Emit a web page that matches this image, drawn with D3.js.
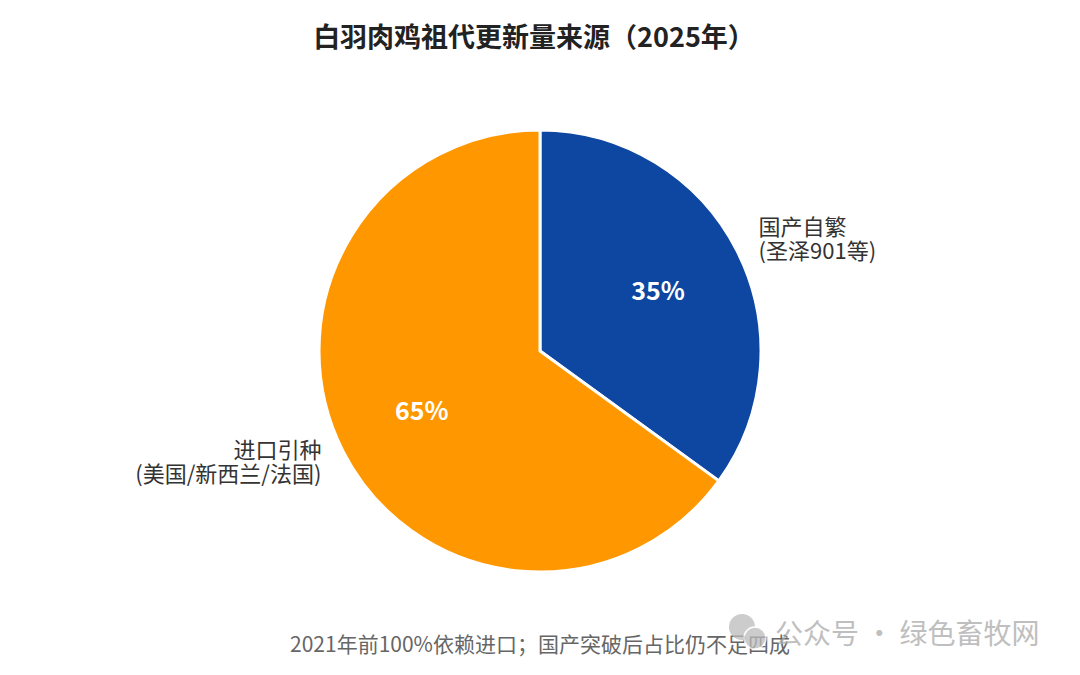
<!DOCTYPE html>
<meta charset="utf-8">
<script src="https://d3js.org/d3.v7.min.js"></script>
<style>
  body { margin: 0; background: #fff; }
  text { font-family: "Noto Sans CJK SC", "Noto Sans", sans-serif; }
</style>
<div id="chart"></div>
<script>
  // data
  var categories = ["国产自繁", "进口引种"];
  var subLabels = ["(圣泽901等)", "(美国/新西兰/法国)"];
  var shares = [35, 65];
  var colors = ["#0d47a1", "#ff9800"];

  var width = 1080, height = 675;
  var cx = 540, cy = 351, radius = 221;

  var svg = d3.select("#chart")
    .append("svg")
      .attr("width", width)
      .attr("height", height);

  svg.append("text")
    .attr("x", 534)
    .attr("y", 47)
    .attr("text-anchor", "middle")
    .style("font-size", "27px")
    .style("font-weight", "bold")
    .style("fill", "#222")
    .text("白羽肉鸡祖代更新量来源（2025年）");

  var data = categories.map(function (c, i) {
    return { name: c, sub: subLabels[i], value: shares[i], color: colors[i] };
  });

  var pie = d3.pie().sort(null).value(function (d) { return d.value; });
  var arcs = pie(data);

  var arc = d3.arc().innerRadius(0).outerRadius(radius);
  var inner = d3.arc().innerRadius(radius * 0.6).outerRadius(radius * 0.6);
  var outer = d3.arc().innerRadius(radius * 1.11).outerRadius(radius * 1.11);

  var g = svg.append("g")
    .attr("transform", "translate(" + cx + "," + cy + ")");

  g.selectAll("path")
    .data(arcs)
    .enter()
    .append("path")
      .attr("d", arc)
      .style("fill", function (d) { return d.data.color; })
      .style("stroke", "#fff")
      .style("stroke-width", 3);

  // percentage labels
  g.selectAll("text.pct")
    .data(arcs)
    .enter()
    .append("text")
      .attr("class", "pct")
      .attr("transform", function (d) { return "translate(" + inner.centroid(d) + ")"; })
      .attr("text-anchor", "middle")
      .attr("dy", "0.36em")
      .style("fill", "#fff")
      .style("font-size", "25px")
      .style("font-weight", "bold")
      .text(function (d) { return d.data.value + "%"; });

  // outer labels
  var lbl = g.selectAll("text.lbl")
    .data(arcs)
    .enter()
    .append("text")
      .attr("class", "lbl")
      .attr("transform", function (d) { return "translate(" + outer.centroid(d) + ")"; })
      .attr("text-anchor", function (d) {
        return (d.startAngle + d.endAngle) / 2 < Math.PI ? "start" : "end";
      })
      .style("fill", "#333")
      .style("font-size", "22px");

  lbl.append("tspan")
    .attr("x", 0)
    .attr("dy", "-0.2em")
    .text(function (d) { return d.data.name; });
  lbl.append("tspan")
    .attr("x", 0)
    .attr("dy", "1.1em")
    .text(function (d) { return d.data.sub; });

  svg.append("text")
    .attr("x", width / 2)
    .attr("y", 652)
    .attr("text-anchor", "middle")
    .style("font-size", "21px")
    .style("fill", "#666")
    .text("2021年前100%依赖进口；国产突破后占比仍不足四成");

  // watermark
  var wm = svg.append("g").attr("opacity", 0.75);
  wm.append("circle").attr("cx", 742).attr("cy", 627).attr("r", 13).style("fill", "#bbb");
  wm.append("circle").attr("cx", 755).attr("cy", 638).attr("r", 11).style("fill", "#bbb")
    .style("stroke", "#fff").style("stroke-width", 1.5);
  wm.append("text")
    .attr("x", 775)
    .attr("y", 644)
    .style("font-size", "28px")
    .style("fill", "#aaa")
    .text("公众号 · 绿色畜牧网");
</script>
